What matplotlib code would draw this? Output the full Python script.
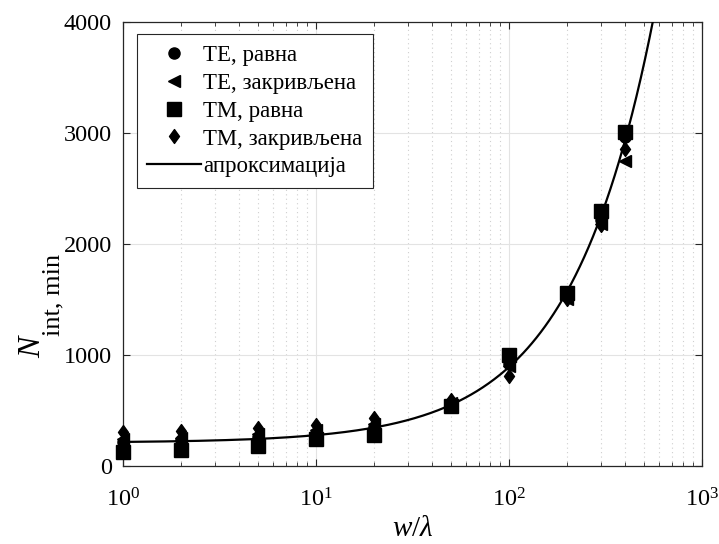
import numpy as np
import matplotlib
matplotlib.use("Agg")
import matplotlib.pyplot as plt
from matplotlib.path import Path

plt.rcParams['font.family'] = ['Liberation Serif', 'DejaVu Serif']
plt.rcParams['mathtext.fontset'] = 'custom'
plt.rcParams['mathtext.rm'] = 'Liberation Serif'
plt.rcParams['mathtext.it'] = 'Liberation Serif:italic'
plt.rcParams['mathtext.bf'] = 'Liberation Serif:bold'

# Normalised width w/lambda
w_ratio = [1, 2, 5, 10, 20, 50, 100, 200, 300, 400]

# Minimum number of integration points per case
te_flat = [220, 235, 265, 300, 350, 560, 920, 1530, 2220, 2960]
te_curved = [245, 255, 290, 320, 380, 570, 900, 1500, 2180, 2750]
tm_flat = [125, 140, 180, 245, 280, 540, 1000, 1560, 2300, 3010]
tm_curved = [305, 315, 340, 370, 435, 590, 815, 1500, 2170, 2860]

labels = ['ТЕ, равна', 'ТЕ, закривљена', 'ТМ, равна', 'ТМ, закривљена', 'апроксимација']

# Approximation N = a + b * (w/lambda)
fit_a = 210.0
fit_b = 6.8

W, H = 719, 544

diamond = Path([(0, 1), (0.72, 0), (0, -1), (-0.72, 0), (0, 1)],
               [Path.MOVETO, Path.LINETO, Path.LINETO, Path.LINETO, Path.CLOSEPOLY])

fig = plt.figure(figsize=(W / 100, H / 100), dpi=100)
ax = fig.add_axes([0.171, 0.1434, 0.805, 0.8162])

mk = dict(linestyle='none', color='black', clip_on=False, zorder=3)
ax.plot(w_ratio, te_flat, marker='o', markersize=8, label=labels[0], **mk)
ax.plot(w_ratio, te_curved, marker='<', markersize=9, label=labels[1], **mk)
ax.plot(w_ratio, tm_flat, marker='s', markersize=9.5, label=labels[2], **mk)
ax.plot(w_ratio, tm_curved, marker=diamond, markersize=10, label=labels[3], **mk)

xs = np.logspace(0, 3, 400)
ax.plot(xs, fit_a + fit_b * xs, color='black', linewidth=1.6, label=labels[4], zorder=4)

ax.set_xscale('log')
ax.set_xlim(1, 1000)
ax.set_ylim(0, 4000)
ax.set_yticks([0, 1000, 2000, 3000, 4000])

ax.grid(True, which='major', color='#e3e3e3', linewidth=0.8, linestyle='-')
ax.grid(True, which='minor', axis='x', color='#cfcfcf', linewidth=0.8, linestyle=(0, (1, 3)))
ax.set_axisbelow(True)

for side in ax.spines.values():
    side.set_color('#262626')
    side.set_linewidth(0.9)
ax.tick_params(which='both', direction='in', top=True, right=True, colors='#262626',
               labelcolor='black', labelsize=17.5)
ax.tick_params(which='major', length=5)
ax.tick_params(which='minor', length=3)
ax.tick_params(axis='x', pad=16)
ax.tick_params(axis='y', pad=8)

ax.set_xlabel(r'$w/\lambda$', fontsize=21, labelpad=3)

# y-axis label: italic N with a subscript, drawn as two rotated pieces
fig.text(33 / W, 1 - 347 / H, 'N', fontsize=23, style='italic', rotation=90,
         ha='center', va='center')
fig.text(53 / W, 1 - 336 / H, 'int, min', fontsize=19, rotation=90,
         rotation_mode='anchor', ha='left', va='center')

leg = ax.legend(loc='upper left', bbox_to_anchor=(0.024, 0.972), fontsize=16.5,
                frameon=True, fancybox=False, edgecolor='#262626', framealpha=1,
                handlelength=2.35, handletextpad=0.1, labelspacing=0.3,
                borderpad=0.45, borderaxespad=0)
leg.get_frame().set_linewidth(0.8)

fig.savefig('out.png', dpi=100)
